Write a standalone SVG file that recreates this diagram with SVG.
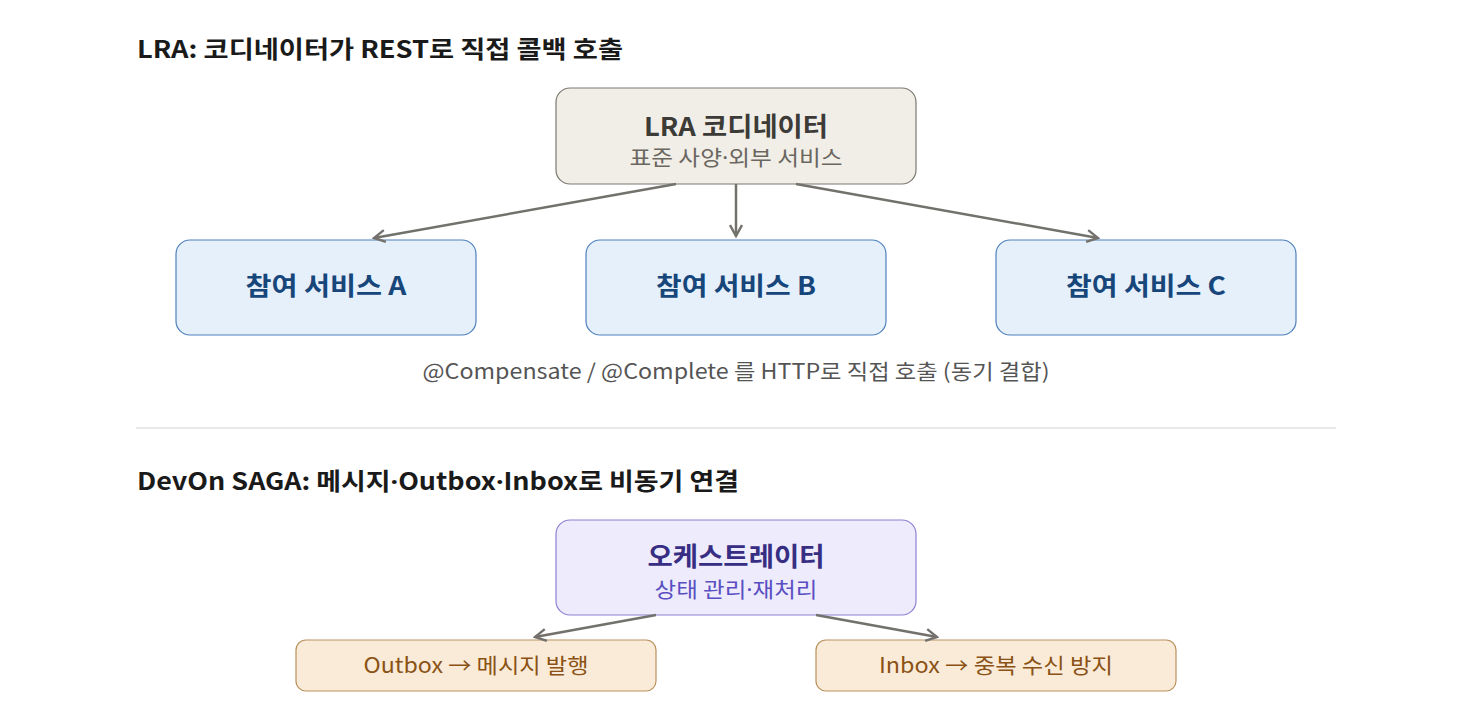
<svg xmlns="http://www.w3.org/2000/svg" width="1472" height="720" viewBox="0 0 1472 720">
<style>
text{font-family:"Noto Sans CJK KR","Noto Sans",sans-serif}
.d{font-family:"Noto Sans",sans-serif}
.h{font-size:24px;font-weight:700;fill:#1a1a1a}
.t{text-anchor:middle}
.coord rect{fill:#f1eee8;stroke:#7c7870;stroke-width:1.2}
.part rect{fill:#e5f0fb;stroke:#4f80bd;stroke-width:1.2}
.orch rect{fill:#edebfc;stroke:#8b82d4;stroke-width:1.2}
.box rect{fill:#faebd8;stroke:#b8925e;stroke-width:1.2}
.conn line{stroke:#73716b;stroke-width:2.5;fill:none}
</style>
<defs>
<marker id="ah" viewBox="0 0 14 14" refX="12" refY="7" markerWidth="14" markerHeight="14" markerUnits="userSpaceOnUse" orient="auto">
<path d="M1,1 L12,7 L1,13" fill="none" stroke="#73716b" stroke-width="2.4"/>
</marker>
</defs>
<rect width="1472" height="720" fill="#ffffff"/>
<text class="h" x="137" y="58" textLength="486" lengthAdjust="spacingAndGlyphs">LRA: 코디네이터가 REST로 직접 콜백 호출</text>
<g id="coordinator" class="coord">
<rect x="556" y="88" width="360" height="96" rx="14"/>
<text class="t" x="736" y="136" font-size="26" font-weight="700" fill="#3d3b37" textLength="184" lengthAdjust="spacingAndGlyphs">LRA 코디네이터</text>
<text class="t" x="736" y="165" font-size="21" fill="#6a6760" textLength="213" lengthAdjust="spacingAndGlyphs">표준 사양<tspan class="d">·</tspan>외부 서비스</text>
</g>
<g id="participantA" class="part">
<rect x="176" y="240" width="300" height="95" rx="14"/>
<text class="t" x="326" y="295" font-size="25" font-weight="700" fill="#17467a" textLength="161" lengthAdjust="spacingAndGlyphs">참여 서비스 A</text>
</g>
<g id="participantB" class="part">
<rect x="586" y="240" width="300" height="95" rx="14"/>
<text class="t" x="736" y="295" font-size="25" font-weight="700" fill="#17467a" textLength="160" lengthAdjust="spacingAndGlyphs">참여 서비스 B</text>
</g>
<g id="participantC" class="part">
<rect x="996" y="240" width="300" height="95" rx="14"/>
<text class="t" x="1146" y="295" font-size="25" font-weight="700" fill="#17467a" textLength="160" lengthAdjust="spacingAndGlyphs">참여 서비스 C</text>
</g>
<text class="t" x="736" y="379" font-size="21" fill="#555555" textLength="627" lengthAdjust="spacingAndGlyphs">@Compensate / @Complete 를 HTTP로 직접 호출 (동기 결합)</text>
<line x1="136" y1="428" x2="1336" y2="428" stroke="#e2e2e2" stroke-width="1.5"/>
<text class="h" x="137" y="490" textLength="602" lengthAdjust="spacingAndGlyphs">DevOn SAGA: 메시지<tspan class="d">·</tspan>Outbox<tspan class="d">·</tspan>Inbox로 비동기 연결</text>
<g id="orchestrator" class="orch">
<rect x="556" y="520" width="360" height="95" rx="14"/>
<text class="t" x="736" y="566" font-size="26" font-weight="700" fill="#372d82" textLength="177" lengthAdjust="spacingAndGlyphs">오케스트레이터</text>
<text class="t" x="736" y="597" font-size="21" fill="#5a4fc2" textLength="163" lengthAdjust="spacingAndGlyphs">상태 관리<tspan class="d">·</tspan>재처리</text>
</g>
<g id="outbox" class="box">
<rect x="296" y="640" width="360" height="51" rx="10"/>
<text class="t" x="476" y="673" font-size="21" fill="#8a5214" textLength="225" lengthAdjust="spacingAndGlyphs">Outbox → 메시지 발행</text>
</g>
<g id="inbox" class="box">
<rect x="816" y="640" width="360" height="51" rx="10"/>
<text class="t" x="996" y="673" font-size="21" fill="#8a5214" textLength="234" lengthAdjust="spacingAndGlyphs">Inbox → 중복 수신 방지</text>
</g>
<g id="connectors" class="conn">
<line x1="676" y1="184" x2="374" y2="238" marker-end="url(#ah)"/>
<line x1="736" y1="184" x2="736" y2="236" marker-end="url(#ah)"/>
<line x1="796" y1="184" x2="1098" y2="238" marker-end="url(#ah)"/>
<line x1="656" y1="615" x2="535" y2="637" marker-end="url(#ah)"/>
<line x1="816" y1="615" x2="937" y2="637" marker-end="url(#ah)"/>
</g>
</svg>
